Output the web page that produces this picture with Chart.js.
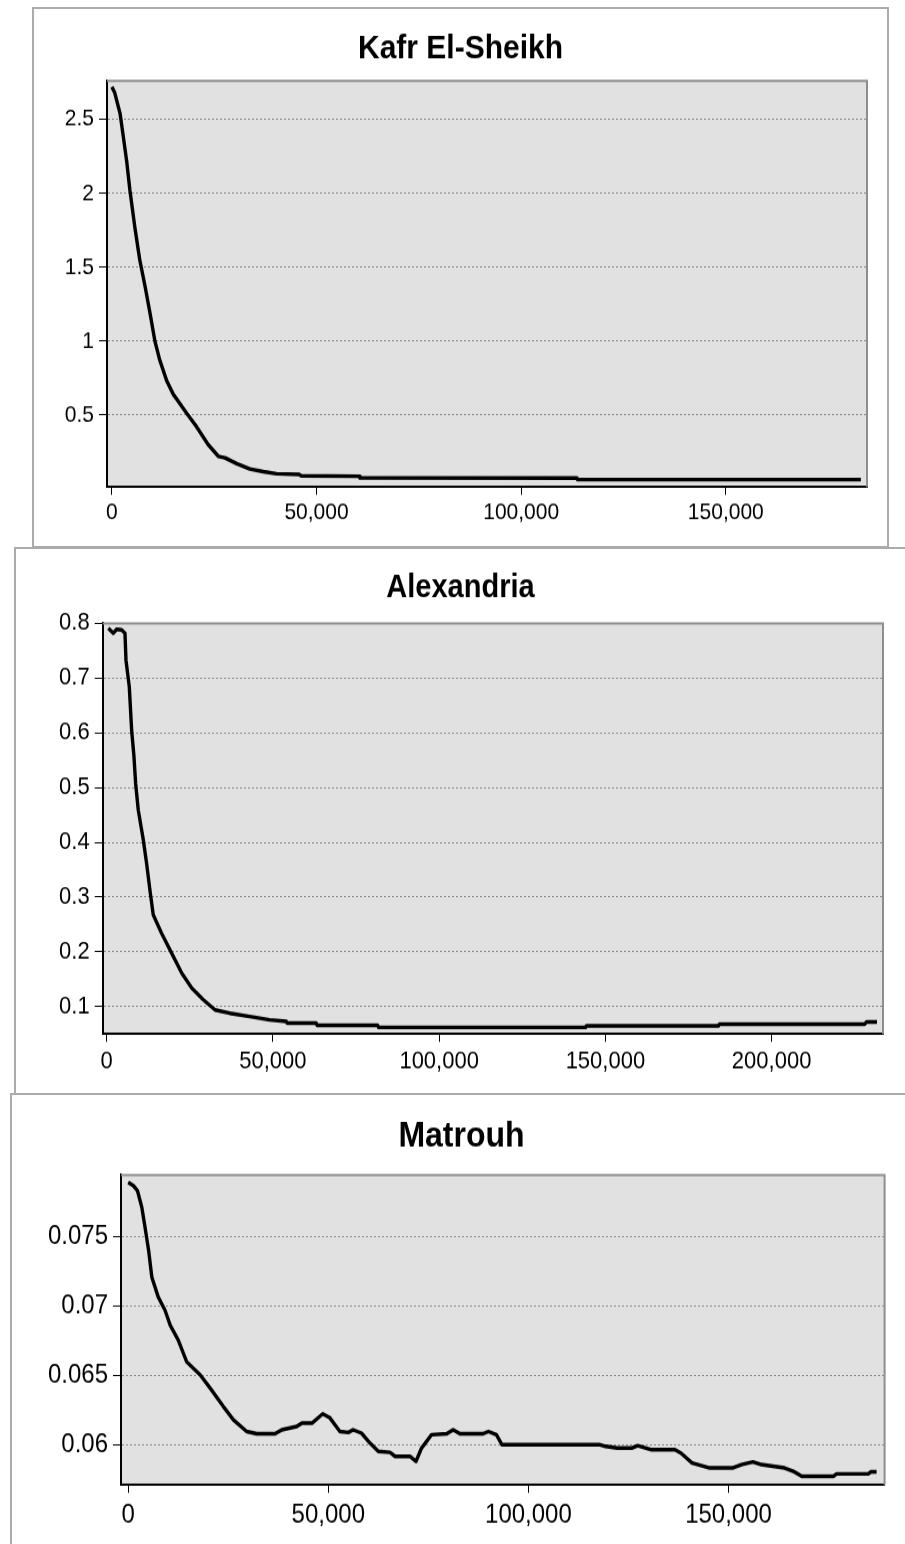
<!DOCTYPE html>
<html>
<head>
<meta charset="utf-8">
<title>Kafr El-Sheikh / Alexandria / Matrouh</title>
<script src="https://cdn.jsdelivr.net/npm/chart.js@4.4.1/dist/chart.umd.min.js"></script>
<style>
  html, body { margin: 0; padding: 0; background: #fff; }
  #page { position: relative; width: 905px; height: 1544px; overflow: hidden; background: #fff; }
  .panel { position: absolute; box-sizing: border-box; border: 2px solid #ababab; background: #fff; }
  .panel canvas { position: absolute; left: 0; top: 0; }
</style>
</head>
<body>
<div id="page">
  <div class="panel" style="left:32px; top:7px; width:857px; height:541px;">
    <canvas id="kafrChart" width="853" height="480" style="width:853px; height:537px;"></canvas>
  </div>
  <div class="panel" style="left:14px; top:547px; width:920px; height:548px;">
    <canvas id="alexChart" width="889" height="486" style="width:889px; height:544px;"></canvas>
  </div>
  <div class="panel" style="left:10px; top:1093px; width:920px; height:480px;">
    <canvas id="matrouhChart" width="899" height="401" style="width:899px; height:449px;"></canvas>
  </div>
</div>

<script>
// Kafr El-Sheikh
const kafrX = [0, 700, 2000, 2800, 3600, 4400, 5600, 6800, 8100, 9300,
  10500, 11700, 13400, 15000, 18300, 20700, 23500, 26000, 27600, 30500,
  33700, 37000, 40200, 45800, 46200, 60400, 60600, 113600, 113800, 183000];
const kafrY = [2.72, 2.68, 2.54, 2.38, 2.22, 2.02, 1.77, 1.55, 1.37, 1.19,
  1.0, 0.87, 0.73, 0.64, 0.51, 0.42, 0.30, 0.22, 0.21, 0.17,
  0.134, 0.116, 0.102, 0.097, 0.088, 0.085, 0.074, 0.073, 0.062, 0.062];
const kafrXTicks = [0, 50000, 100000, 150000];
const kafrYTicks = [0.5, 1, 1.5, 2, 2.5];

// Alexandria
const alexX = [500, 2000, 3000, 4500, 5500, 5800, 6800, 7500, 8200, 8700,
  9500, 11000, 12000, 13000, 14000, 16500, 19000, 22600, 25600, 29000,
  32600, 37000, 43000, 49000, 54000, 54300, 63000, 63300, 81500, 81800,
  144000, 144300, 184000, 184300, 228000, 228500, 231700];
const alexY = [0.791, 0.782, 0.789, 0.788, 0.782, 0.733, 0.684, 0.605, 0.557, 0.508,
  0.459, 0.405, 0.362, 0.313, 0.268, 0.234, 0.204, 0.161, 0.134, 0.113,
  0.094, 0.088, 0.082, 0.076, 0.073, 0.070, 0.070, 0.066, 0.066, 0.062,
  0.062, 0.065, 0.065, 0.068, 0.068, 0.072, 0.072];
const alexXTicks = [0, 50000, 100000, 150000, 200000];
const alexYTicks = [0.1, 0.2, 0.3, 0.4, 0.5, 0.6, 0.7, 0.8];

// Matrouh
const matrouhX = [0, 1300, 2300, 3400, 4200, 5100, 5900, 7500, 9200, 10500,
  12500, 14600, 18000, 20500, 23800, 26300, 29600, 32100, 36700, 38400,
  42100, 43400, 45900, 48600, 50400, 52900, 55000, 56200, 58300, 60400,
  62500, 65400, 66700, 70400, 71900, 73300, 75800, 79600, 81200, 82900,
  88700, 90000, 92000, 93400, 117900, 119300, 122200, 125800, 127300, 129400,
  130800, 136600, 138100, 140900, 142400, 145300, 151000, 153200, 156100, 158200,
  161100, 164000, 166200, 168300, 176200, 177000, 184900, 185600, 187000];
const matrouhY = [0.07887, 0.07863, 0.07828, 0.07708, 0.07565, 0.07398, 0.07206, 0.07063, 0.06967, 0.0686,
  0.06752, 0.06597, 0.06502, 0.06406, 0.06274, 0.06179, 0.06095, 0.06079, 0.06079, 0.06107,
  0.06131, 0.06155, 0.06155, 0.06222, 0.06193, 0.06095, 0.06088, 0.06107, 0.06083, 0.06012,
  0.05952, 0.05945, 0.05916, 0.05916, 0.0588, 0.05976, 0.06072, 0.06079, 0.06107, 0.06079,
  0.06079, 0.06095, 0.06072, 0.0600, 0.0600, 0.05988, 0.05976, 0.05976, 0.05993, 0.05976,
  0.05964, 0.05964, 0.0594, 0.05869, 0.05857, 0.05833, 0.05833, 0.05857, 0.05876, 0.05857,
  0.05845, 0.05833, 0.05809, 0.05773, 0.05773, 0.0579, 0.0579, 0.05805, 0.05805];
const matrouhXTicks = [0, 50000, 100000, 150000];
const matrouhYTicks = [0.06, 0.065, 0.07, 0.075];

const FONT = "'Liberation Sans', Arial, sans-serif";

// grey plot area with a grey top/right frame
const plotArea = {
  id: 'plotArea',
  beforeDraw(chart) {
    const { ctx, chartArea: a } = chart;
    ctx.save();
    ctx.fillStyle = '#e1e1e1';
    ctx.fillRect(a.left, a.top, a.right - a.left, a.bottom - a.top);
    ctx.restore();
  },
  beforeDatasetsDraw(chart) {
    const { ctx, chartArea: a } = chart;
    ctx.save();
    ctx.strokeStyle = '#8e8e8e';
    ctx.lineWidth = 2;
    ctx.beginPath();
    ctx.moveTo(a.left, a.top);
    ctx.lineTo(a.right, a.top);
    ctx.lineTo(a.right, a.bottom);
    ctx.stroke();
    ctx.restore();
  }
};

// p.titleCenter, p.plotTop, p.plotBottom, p.labelCenter are css px in the canvas;
// the canvas is drawn a little short and stretched tall, like the screenshot
function drawPanel(id, p) {
  const canvas = document.getElementById(id);
  const s = parseFloat(canvas.style.height) / canvas.height;
  const titleLine = p.titleSize * 1.2;
  const titleTop = p.titleCenter / s - titleLine / 2;
  const titleBottom = p.plotTop / s - titleTop - titleLine;
  const xAxisHeight = canvas.height - p.plotBottom / s;
  const xTickLen = 7;
  const xPad = (p.labelCenter - p.plotBottom) / s - xTickLen - p.tickSize * 0.6;

  const points = p.xs.map((x, i) => ({ x: x, y: p.ys[i] }));
  new Chart(canvas, {
    type: 'line',
    data: {
      datasets: [{
        data: points,
        borderColor: '#000',
        borderWidth: 3.4,
        borderJoinStyle: 'round',
        pointRadius: 0,
        tension: 0,
        fill: false
      }]
    },
    options: {
      responsive: false,
      animation: false,
      devicePixelRatio: 1,
      layout: { padding: { left: p.side, right: p.side, top: 0, bottom: 0 } },
      plugins: {
        legend: { display: false },
        tooltip: { enabled: false },
        title: {
          display: true,
          text: p.title,
          color: '#000',
          font: { family: FONT, size: p.titleSize, weight: 'bold' },
          padding: { top: titleTop, bottom: titleBottom }
        }
      },
      scales: {
        x: {
          type: 'linear',
          min: p.xMin,
          max: p.xMax,
          afterBuildTicks: sc => { sc.ticks = p.xTicks.map(v => ({ value: v })); },
          afterFit: sc => { sc.height = xAxisHeight; },
          grid: { drawOnChartArea: false, drawTicks: true, tickLength: xTickLen, tickColor: '#000', tickWidth: 1 },
          border: { color: '#000', width: 2 },
          ticks: {
            color: '#000',
            font: { family: FONT, size: p.tickSize },
            padding: xPad,
            maxRotation: 0,
            autoSkip: false,
            callback: v => v.toLocaleString('en-US')
          }
        },
        y: {
          min: p.yMin,
          max: p.yMax,
          afterBuildTicks: sc => { sc.ticks = p.yTicks.map(v => ({ value: v })); },
          afterFit: sc => { sc.width = p.yWidth; },
          grid: { color: '#8a8a8a', lineWidth: 1, tickLength: 8, tickColor: '#000', tickWidth: 1 },
          border: { color: '#000', width: 2, dash: [2, 2] },
          ticks: {
            color: '#000',
            font: { family: FONT, size: p.tickSize },
            padding: 5,
            autoSkip: false,
            callback: v => String(+v.toFixed(4))
          }
        }
      }
    },
    plugins: [plotArea]
  });
}

function drawAll() {
  drawPanel('kafrChart', {
    title: 'Kafr El-Sheikh', titleSize: 30,
    titleCenter: 40, plotTop: 72, plotBottom: 478, labelCenter: 504,
    xs: kafrX, ys: kafrY, xTicks: kafrXTicks, yTicks: kafrYTicks,
    xMin: -1200, xMax: 184500, yMin: 0.012, yMax: 2.76,
    side: 20, yWidth: 53, tickSize: 21
  });
  drawPanel('alexChart', {
    title: 'Alexandria', titleSize: 29,
    titleCenter: 39.5, plotTop: 74.3, plotBottom: 485, labelCenter: 512.5,
    xs: alexX, ys: alexY, xTicks: alexXTicks, yTicks: alexYTicks,
    xMin: -1200, xMax: 233500, yMin: 0.05, yMax: 0.8,
    side: 22, yWidth: 64.7, tickSize: 22
  });
  drawPanel('matrouhChart', {
    title: 'Matrouh', titleSize: 32,
    titleCenter: 41.7, plotTop: 80, plotBottom: 390, labelCenter: 420,
    xs: matrouhX, ys: matrouhY, xTicks: matrouhXTicks, yTicks: matrouhYTicks,
    xMin: -1800, xMax: 189000, yMin: 0.0571, yMax: 0.0794,
    side: 26.4, yWidth: 82.6, tickSize: 24
  });
}

document.addEventListener('DOMContentLoaded', drawAll);
</script>
</body>
</html>
